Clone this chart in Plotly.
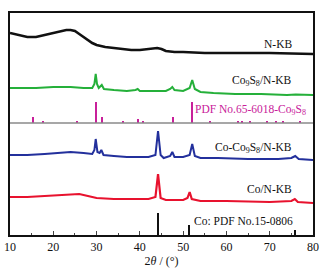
import plotly.graph_objects as go

# ---- data (stacked intensities, arbitrary units) ----
nkb_x = [10, 11, 12, 13, 14, 15, 16, 17, 18, 19, 20, 21, 22, 23, 24, 25, 26, 27, 28, 29, 30, 32, 34, 36, 38, 40, 42, 43, 44, 45, 46, 48, 50, 55, 60, 70, 80]
nkb_y = [202, 201, 200, 199, 198, 198, 198, 199, 200, 201, 202, 203, 204, 205, 205, 204, 201, 198, 195, 192, 190, 188, 187, 186, 185, 185, 186, 187, 187, 186, 184, 183, 183, 182, 182, 182, 181]

co9s8_x = [10, 13, 16, 20, 24, 27, 29, 29.5, 29.8, 30.1, 30.5, 31.2, 31.7, 34, 37, 39, 39.5, 40, 43, 46, 47, 47.5, 48, 50, 51.5, 52.1, 52.7, 54, 57, 62, 68, 74, 76, 80]
co9s8_y = [147, 147, 147, 148, 148, 147, 147, 151, 161, 151, 147, 150, 146, 145, 144, 145, 146, 144, 144, 144, 146, 148, 145, 144, 147, 155, 146, 143, 142, 141, 141, 140, 140.5, 140]

coco9s8_x = [10, 14, 18, 21, 24, 27, 29, 29.5, 29.8, 30.2, 30.7, 31.1, 31.6, 34, 37, 40, 42, 43.6, 44.2, 44.8, 45.5, 47, 47.5, 48, 50, 51.5, 52.1, 52.7, 54, 58, 65, 72, 75, 75.9, 76.7, 80]
coco9s8_y = [80, 80, 81, 82, 83, 82, 81, 85, 96, 83, 82, 85, 80, 79, 78, 78, 78, 80, 104, 80, 77, 79, 83, 78, 78, 80, 91, 79, 77, 77, 76, 76, 77, 79, 76, 75]

co_x = [10, 14, 18, 21, 24, 26, 28, 30, 34, 38, 42, 43.6, 44.2, 44.8, 46, 50, 51, 51.5, 52, 54, 60, 70, 75, 75.8, 76.5, 80]
co_y = [38, 38, 39, 40, 41, 41, 39, 37, 36, 36, 36, 38, 61, 37, 35, 35, 37, 43, 36, 34, 34, 33, 34, 36, 33, 32]

pdf_co9s8_pos = [15.3, 17.6, 25.5, 29.9, 31.2, 36.1, 39.5, 40.7, 47.6, 52.1, 56.2, 62.6, 63.6, 65.4, 69.3, 71.6, 73.2, 77.0]
pdf_co9s8_int = [6, 2, 2, 21, 6, 2, 4, 1.5, 6, 21, 1.5, 1.5, 2, 1.5, 1.5, 1.5, 2, 1.5]
pdf_co9s8_base = 112

pdf_co_pos = [44.2, 51.5, 75.9]
pdf_co_int = [22, 10, 5]

x_ticks = [10, 20, 30, 40, 50, 60, 70, 80]

FONT = "Liberation Serif"

fig = go.Figure()
fig.add_trace(go.Scatter(x=nkb_x, y=nkb_y, mode="lines", line=dict(color="#111111", width=2.6)))
fig.add_trace(go.Scatter(x=co9s8_x, y=co9s8_y, mode="lines", line=dict(color="#25b03a", width=2)))
fig.add_trace(go.Scatter(x=coco9s8_x, y=coco9s8_y, mode="lines", line=dict(color="#23309c", width=2)))
fig.add_trace(go.Scatter(x=co_x, y=co_y, mode="lines", line=dict(color="#e8122e", width=2.2)))
fig.add_trace(go.Bar(x=pdf_co9s8_pos, y=pdf_co9s8_int, base=pdf_co9s8_base, width=0.3,
                     marker=dict(color="#c8209a", line=dict(width=0))))
fig.add_trace(go.Bar(x=pdf_co_pos, y=pdf_co_int, base=0, width=0.3,
                     marker=dict(color="#111111", line=dict(width=0))))

fig.add_shape(type="line", xref="paper", yref="y", x0=0, x1=1, y0=pdf_co9s8_base, y1=pdf_co9s8_base,
              line=dict(color="#8a8a8a", width=1.5))

labels = [
    (75.5, 191, "N-KB", "#111111"),
    (75.5, 154, "Co<sub>9</sub>S<sub>8</sub>/N-KB", "#111111"),
    (78.8, 125, "PDF No.65-6018-Co<sub>9</sub>S<sub>8</sub>", "#c8209a"),
    (75.5, 87, "Co-Co<sub>9</sub>S<sub>8</sub>/N-KB", "#111111"),
    (75.5, 46, "Co/N-KB", "#111111"),
    (75.8, 14, "Co: PDF No.15-0806", "#111111"),
]
for x, y, t, c in labels:
    fig.add_annotation(x=x, y=y, text=t, showarrow=False, xanchor="right", yanchor="middle",
                       font=dict(family=FONT, size=11.5, color=c))

fig.update_layout(
    width=328, height=274,
    margin=dict(l=10, r=15, t=13, b=39, autoexpand=False),
    paper_bgcolor="white", plot_bgcolor="white",
    showlegend=False, bargap=0,
    font=dict(family=FONT, size=12, color="#111111"),
    xaxis=dict(range=[10, 80], tickvals=x_ticks, ticks="inside", ticklen=4, tickwidth=1.3,
               minor=dict(dtick=5, ticks="inside", ticklen=2.5, tickwidth=1.2, tick0=10),
               showline=True, linecolor="#111111", linewidth=1.5, mirror=True,
               showgrid=False, zeroline=False, automargin=False,
               tickfont=dict(family=FONT, size=12),
               title=dict(text="2<i>θ</i> / (°)", font=dict(family=FONT, size=12), standoff=2)),
    yaxis=dict(range=[0, 222], showticklabels=False, ticks="", showline=True, linecolor="#111111",
               linewidth=1.5, mirror=True, showgrid=False, zeroline=False, automargin=False),
)

fig.write_html("out.html", config={"displayModeBar": False},
               post_script="document.body.style.margin='0';document.body.style.overflow='hidden';")
